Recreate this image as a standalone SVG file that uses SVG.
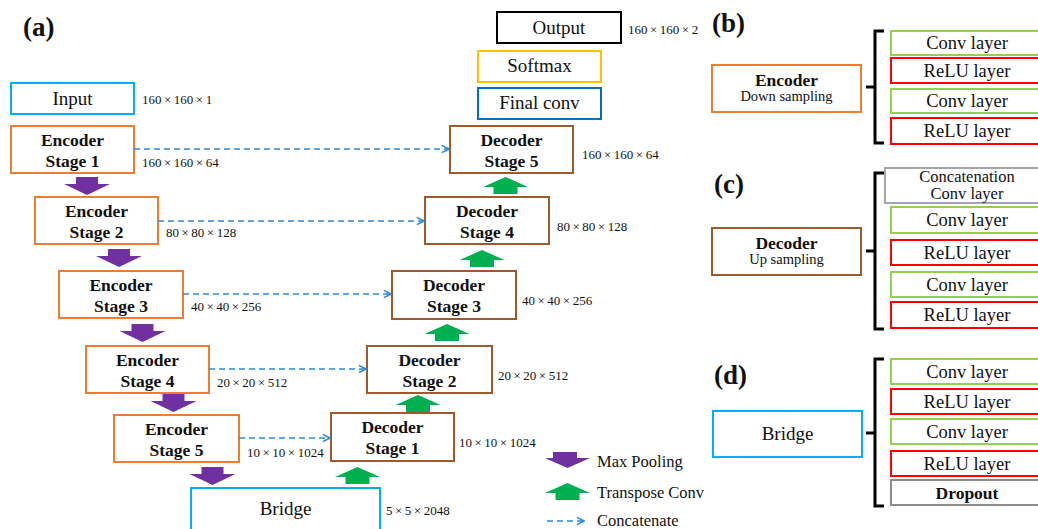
<svg xmlns="http://www.w3.org/2000/svg" width="1038" height="529" viewBox="0 0 1038 529">
<defs>
<style>
text{font-family:"Liberation Serif","Times New Roman",serif;fill:#111;}
.bt{font-weight:bold;font-size:17.5px;text-anchor:middle;}
.rt{font-size:19px;text-anchor:middle;}
.lt{font-size:18.5px;text-anchor:middle;}
.dim{font-size:13px;}
.pl{font-weight:bold;font-size:27px;}
.box{fill:#fff;stroke-width:2;}
.enc{stroke:#ED7D31;}
.dec{stroke:#9E5A2A;}
.cyan{stroke:#00B0F0;}
.conv{stroke:#92D050;}
.relu{stroke:#FF0000;}
.gray{stroke:#A6A6A6;}
.dash{stroke:#2D89D6;stroke-width:1.6;stroke-dasharray:6 4;fill:none;}
.brace{fill:none;stroke:#000;stroke-width:3;}
.pool{fill:#7030A0;}
.up{fill:#00B050;}
</style>
<marker id="chev" viewBox="0 0 10 10" refX="9" refY="5" markerWidth="9" markerHeight="10" markerUnits="userSpaceOnUse" orient="auto">
<path d="M1 1 L9 5 L1 9" fill="none" stroke="#2D89D6" stroke-width="1.8"/>
</marker>
<path id="parrow" d="M-11 0 H11 V7 H23 L0 18 L-23 7 H-11 Z"/>
<path id="garrow" d="M0 0 L22.5 10 H12 V17 H-12 V10 H-22.5 Z"/>
</defs>

<text class="pl" x="23" y="36">(a)</text>
<text class="pl" x="712" y="32">(b)</text>
<text class="pl" x="714" y="193">(c)</text>
<text class="pl" x="714" y="384">(d)</text>

<g id="input"><rect class="box cyan" x="11" y="83" width="123" height="31"/><text class="rt" x="72.5" y="105">Input</text></g>
<g id="enc1"><rect class="box enc" x="11" y="126" width="123" height="47"/><text class="bt" x="72.5" y="146">Encoder</text><text class="bt" x="72.5" y="167">Stage 1</text></g>
<g id="enc2"><rect class="box enc" x="35" y="197" width="123" height="47"/><text class="bt" x="96.5" y="217">Encoder</text><text class="bt" x="96.5" y="238">Stage 2</text></g>
<g id="enc3"><rect class="box enc" x="59" y="271" width="124" height="47"/><text class="bt" x="121" y="291">Encoder</text><text class="bt" x="121" y="312">Stage 3</text></g>
<g id="enc4"><rect class="box enc" x="86" y="346" width="123" height="47"/><text class="bt" x="147.5" y="366">Encoder</text><text class="bt" x="147.5" y="387">Stage 4</text></g>
<g id="enc5"><rect class="box enc" x="114" y="415" width="125" height="47"/><text class="bt" x="176.5" y="435">Encoder</text><text class="bt" x="176.5" y="456">Stage 5</text></g>
<g id="bridge"><rect class="box cyan" x="191" y="488" width="189" height="50"/><text class="rt" x="285.5" y="515">Bridge</text></g>

<g id="dec1"><rect class="box dec" x="331" y="413" width="123" height="48"/><text class="bt" x="392.5" y="433">Decoder</text><text class="bt" x="392.5" y="454">Stage 1</text></g>
<g id="dec2"><rect class="box dec" x="367" y="346" width="125" height="47"/><text class="bt" x="429.5" y="366">Decoder</text><text class="bt" x="429.5" y="387">Stage 2</text></g>
<g id="dec3"><rect class="box dec" x="392" y="271" width="124" height="48"/><text class="bt" x="454" y="291">Decoder</text><text class="bt" x="454" y="312">Stage 3</text></g>
<g id="dec4"><rect class="box dec" x="425" y="197" width="124" height="47"/><text class="bt" x="487" y="217">Decoder</text><text class="bt" x="487" y="238">Stage 4</text></g>
<g id="dec5"><rect class="box dec" x="450" y="126" width="123" height="47"/><text class="bt" x="511.5" y="146">Decoder</text><text class="bt" x="511.5" y="167">Stage 5</text></g>
<g id="finalconv"><rect class="box" stroke="#0070C0" x="478" y="88" width="123" height="31"/><text class="rt" x="539.5" y="109">Final conv</text></g>
<g id="softmax"><rect class="box" stroke="#FFC000" x="478" y="51" width="123" height="31"/><text class="rt" x="539.5" y="72">Softmax</text></g>
<g id="output"><rect class="box" stroke="#000" x="497" y="12" width="124" height="31"/><text class="rt" x="559" y="34">Output</text></g>

<g id="dims">
<text class="dim" x="142" y="104">160<tspan dx="2.5">×</tspan><tspan dx="2.5">160</tspan><tspan dx="2.5">×</tspan><tspan dx="2.5">1</tspan></text>
<text class="dim" x="142" y="167">160<tspan dx="2.5">×</tspan><tspan dx="2.5">160</tspan><tspan dx="2.5">×</tspan><tspan dx="2.5">64</tspan></text>
<text class="dim" x="166" y="237">80<tspan dx="2.5">×</tspan><tspan dx="2.5">80</tspan><tspan dx="2.5">×</tspan><tspan dx="2.5">128</tspan></text>
<text class="dim" x="191" y="311">40<tspan dx="2.5">×</tspan><tspan dx="2.5">40</tspan><tspan dx="2.5">×</tspan><tspan dx="2.5">256</tspan></text>
<text class="dim" x="217" y="387">20<tspan dx="2.5">×</tspan><tspan dx="2.5">20</tspan><tspan dx="2.5">×</tspan><tspan dx="2.5">512</tspan></text>
<text class="dim" x="247" y="457">10<tspan dx="2.5">×</tspan><tspan dx="2.5">10</tspan><tspan dx="2.5">×</tspan><tspan dx="2.5">1024</tspan></text>
<text class="dim" x="386" y="515">5<tspan dx="2.5">×</tspan><tspan dx="2.5">5</tspan><tspan dx="2.5">×</tspan><tspan dx="2.5">2048</tspan></text>
<text class="dim" x="459" y="447">10<tspan dx="2.5">×</tspan><tspan dx="2.5">10</tspan><tspan dx="2.5">×</tspan><tspan dx="2.5">1024</tspan></text>
<text class="dim" x="498" y="380">20<tspan dx="2.5">×</tspan><tspan dx="2.5">20</tspan><tspan dx="2.5">×</tspan><tspan dx="2.5">512</tspan></text>
<text class="dim" x="522" y="305">40<tspan dx="2.5">×</tspan><tspan dx="2.5">40</tspan><tspan dx="2.5">×</tspan><tspan dx="2.5">256</tspan></text>
<text class="dim" x="557" y="231">80<tspan dx="2.5">×</tspan><tspan dx="2.5">80</tspan><tspan dx="2.5">×</tspan><tspan dx="2.5">128</tspan></text>
<text class="dim" x="582" y="159">160<tspan dx="2.5">×</tspan><tspan dx="2.5">160</tspan><tspan dx="2.5">×</tspan><tspan dx="2.5">64</tspan></text>
<text class="dim" x="628" y="34">160<tspan dx="2.5">×</tspan><tspan dx="2.5">160</tspan><tspan dx="2.5">×</tspan><tspan dx="2.5">2</tspan></text>
</g>

<g id="connectors">
<line class="dash" x1="134" y1="149" x2="449" y2="149" marker-end="url(#chev)"/>
<line class="dash" x1="158" y1="221" x2="424" y2="221" marker-end="url(#chev)"/>
<line class="dash" x1="183" y1="294" x2="391" y2="294" marker-end="url(#chev)"/>
<line class="dash" x1="209" y1="369" x2="366" y2="369" marker-end="url(#chev)"/>
<line class="dash" x1="239" y1="438" x2="330" y2="438" marker-end="url(#chev)"/>
<use href="#parrow" class="pool" x="87" y="177"/>
<use href="#parrow" class="pool" x="119" y="249"/>
<use href="#parrow" class="pool" x="142.5" y="324"/>
<use href="#parrow" class="pool" x="173.5" y="394"/>
<use href="#parrow" class="pool" x="212.5" y="467"/>
<use href="#garrow" class="up" x="505.5" y="177"/>
<use href="#garrow" class="up" x="482" y="250"/>
<use href="#garrow" class="up" x="447" y="324"/>
<use href="#garrow" class="up" x="418" y="395"/>
<use href="#garrow" class="up" x="357.5" y="467"/>
</g>

<g id="legend">
<path class="pool" d="M553 452 H577 V458 H590 L567.5 468 L545 458 H553 Z"/>
<text x="597" y="467" font-size="16.5">Max Pooling</text>
<use href="#garrow" class="up" x="567.5" y="483"/>
<text x="597" y="498" font-size="16.5">Transpose Conv</text>
<line class="dash" x1="547" y1="521" x2="584" y2="521" marker-end="url(#chev)"/>
<text x="597" y="526" font-size="16.5">Concatenate</text>
</g>

<g id="encoder-detail">
<rect class="box enc" x="712" y="65" width="149" height="47"/>
<text x="786.5" y="86" font-weight="bold" font-size="17.5" text-anchor="middle">Encoder</text>
<text x="786.5" y="101" font-size="14.5" text-anchor="middle">Down sampling</text>
</g>
<g id="encoder-layers">
<path class="brace" d="M884 31 H875 V143 H884 M866 87 H875"/>
<rect class="box conv" x="891" y="31" width="152" height="24"/><text class="lt" x="967" y="49">Conv layer</text>
<rect class="box relu" x="891" y="58" width="152" height="25"/><text class="lt" x="967" y="77">ReLU layer</text>
<rect class="box conv" x="891" y="89" width="152" height="24"/><text class="lt" x="967" y="107">Conv layer</text>
<rect class="box relu" x="891" y="118" width="152" height="26"/><text class="lt" x="967" y="137">ReLU layer</text>
</g>

<g id="decoder-detail">
<rect class="box dec" x="712" y="228" width="149" height="47"/>
<text x="786.5" y="249" font-weight="bold" font-size="17.5" text-anchor="middle">Decoder</text>
<text x="786.5" y="264" font-size="14.5" text-anchor="middle">Up sampling</text>
</g>
<g id="decoder-layers">
<path class="brace" d="M884 173 H875 V329 H884 M866 251 H875"/>
<rect class="box gray" x="885" y="168" width="158" height="35"/>
<text x="967" y="182" font-size="16.5" text-anchor="middle">Concatenation</text>
<text x="967" y="199" font-size="16.5" text-anchor="middle">Conv layer</text>
<rect class="box conv" x="891" y="207" width="152" height="26"/><text class="lt" x="967" y="226">Conv layer</text>
<rect class="box relu" x="891" y="240" width="152" height="25"/><text class="lt" x="967" y="259">ReLU layer</text>
<rect class="box conv" x="891" y="272" width="152" height="25"/><text class="lt" x="967" y="291">Conv layer</text>
<rect class="box relu" x="891" y="302" width="152" height="26"/><text class="lt" x="967" y="321">ReLU layer</text>
</g>

<g id="bridge-detail">
<rect class="box cyan" x="713" y="411" width="149" height="46"/>
<text class="rt" x="787.5" y="440">Bridge</text>
</g>
<g id="bridge-layers">
<path class="brace" d="M884 359 H875 V506 H884 M866 433 H875"/>
<rect class="box conv" x="891" y="359" width="152" height="25"/><text class="lt" x="967" y="378">Conv layer</text>
<rect class="box relu" x="891" y="389" width="152" height="25"/><text class="lt" x="967" y="408">ReLU layer</text>
<rect class="box conv" x="891" y="419" width="152" height="25"/><text class="lt" x="967" y="438">Conv layer</text>
<rect class="box relu" x="891" y="451" width="152" height="25"/><text class="lt" x="967" y="470">ReLU layer</text>
<rect class="box" stroke="#8C8C8C" x="891" y="480" width="152" height="25"/><text x="967" y="499" font-weight="bold" font-size="17.5" text-anchor="middle">Dropout</text>
</g>
</svg>
